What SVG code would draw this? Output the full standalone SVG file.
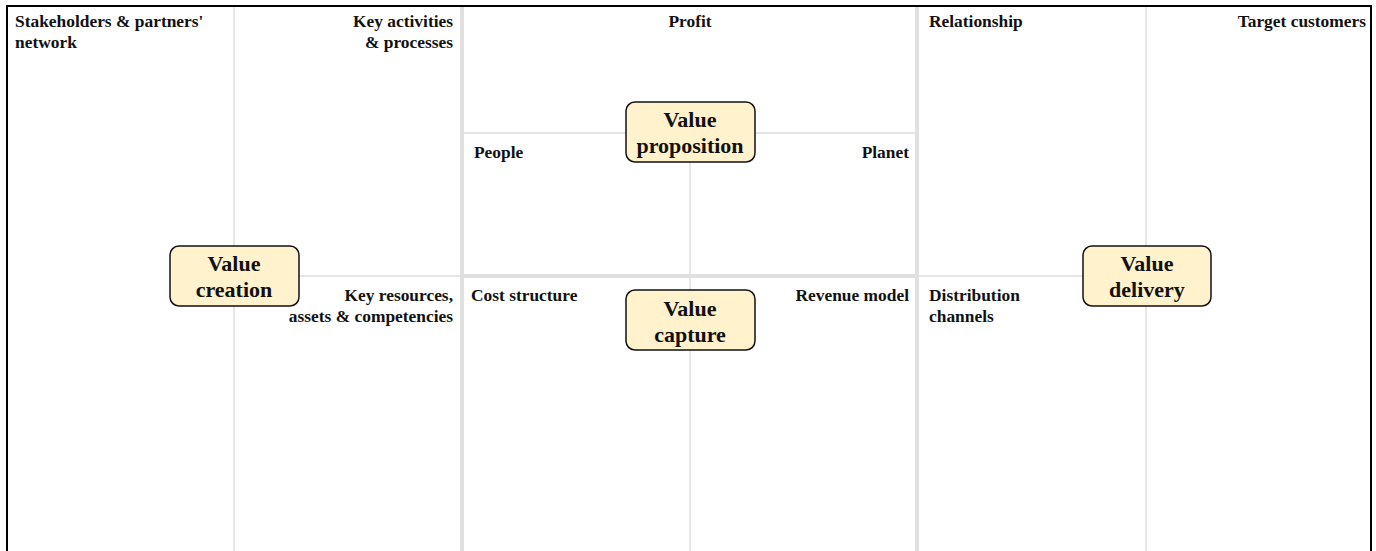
<svg xmlns="http://www.w3.org/2000/svg" width="1376" height="551" viewBox="0 0 1376 551">
<style>
.thin{stroke:#e6e6e6;stroke-width:2;fill:none}
.thick{stroke:#e0e0e0;stroke-width:4;fill:none}
.lbl{font-family:"Liberation Serif","Times New Roman",serif;font-weight:bold;font-size:17.4px;fill:#111}
.box{fill:#fff2cc;stroke:#111;stroke-width:1.5}
.bt{font-family:"Liberation Serif","Times New Roman",serif;font-weight:bold;font-size:22px;fill:#111;text-anchor:middle}
.r{text-anchor:end}
.c{text-anchor:middle}
</style>
<rect x="0" y="0" width="1376" height="551" fill="#fff"/>
<g id="grid">
<line class="thin" x1="234" y1="7" x2="234" y2="551"/>
<line class="thin" x1="1146" y1="7" x2="1146" y2="551"/>
<line class="thin" x1="690" y1="133" x2="690" y2="551"/>
<line class="thin" x1="234" y1="276" x2="462" y2="276"/>
<line class="thin" x1="917" y1="276" x2="1146" y2="276"/>
<line class="thin" x1="462" y1="133" x2="917" y2="133"/>
<line class="thick" x1="462" y1="276" x2="917" y2="276"/>
<line class="thick" x1="462" y1="7" x2="462" y2="551"/>
<line class="thick" x1="917" y1="7" x2="917" y2="551"/>
<path d="M7 551 V6 H1371 V551" fill="none" stroke="#000" stroke-width="2"/>
</g>
<g id="labels">
<text class="lbl" x="15" y="27">Stakeholders &amp; partners'</text>
<text class="lbl" x="15" y="48">network</text>
<text class="lbl r" x="453" y="27">Key activities</text>
<text class="lbl r" x="453" y="48">&amp; processes</text>
<text class="lbl c" x="690" y="27">Profit</text>
<text class="lbl" x="474" y="158">People</text>
<text class="lbl r" x="909" y="158">Planet</text>
<text class="lbl" x="929" y="27">Relationship</text>
<text class="lbl r" x="1366" y="27">Target customers</text>
<text class="lbl r" x="453" y="301">Key resources,</text>
<text class="lbl r" x="453" y="322">assets &amp; competencies</text>
<text class="lbl" x="471" y="301">Cost structure</text>
<text class="lbl r" x="909" y="301">Revenue model</text>
<text class="lbl" x="929" y="301">Distribution</text>
<text class="lbl" x="929" y="322">channels</text>
</g>
<g id="value-proposition">
<rect class="box" x="626" y="102" width="129" height="60" rx="9"/>
<text class="bt" x="690" y="127">Value</text>
<text class="bt" x="690" y="153">proposition</text>
</g>
<g id="value-capture">
<rect class="box" x="626" y="290" width="129" height="60" rx="9"/>
<text class="bt" x="690" y="316">Value</text>
<text class="bt" x="690" y="342">capture</text>
</g>
<g id="value-creation">
<rect class="box" x="170" y="246" width="129" height="60" rx="9"/>
<text class="bt" x="234" y="271">Value</text>
<text class="bt" x="234" y="297">creation</text>
</g>
<g id="value-delivery">
<rect class="box" x="1083" y="246" width="128" height="60" rx="9"/>
<text class="bt" x="1147" y="271">Value</text>
<text class="bt" x="1147" y="297">delivery</text>
</g>
<g id="connectors"></g>
</svg>
